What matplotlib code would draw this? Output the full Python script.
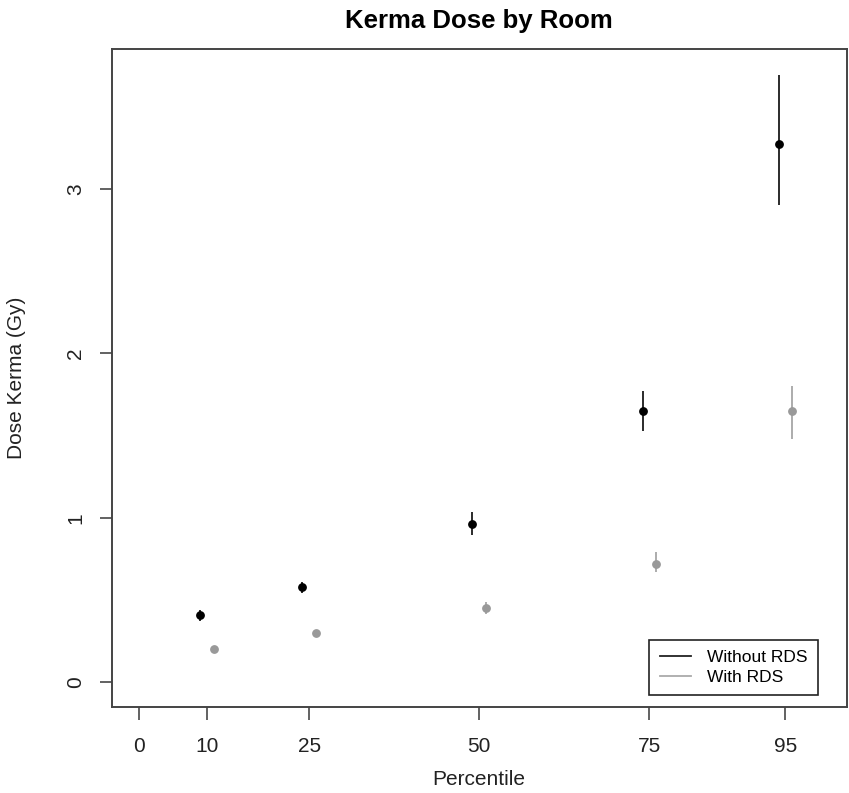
import matplotlib
matplotlib.use("Agg")
import matplotlib.pyplot as plt
from matplotlib.lines import Line2D
import numpy as np

plt.rcParams['font.family'] = ['Liberation Sans', 'DejaVu Sans']

percentiles = [10, 25, 50, 75, 95]
tick_values = [0, 10, 25, 50, 75, 95]
tick_labels = ["0", "10", "25", "50", "75", "95"]

without_rds = [0.41, 0.58, 0.96, 1.65, 3.27]
without_lo = [0.375, 0.545, 0.895, 1.525, 2.90]
without_hi = [0.44, 0.61, 1.035, 1.77, 3.69]

with_rds = [0.20, 0.30, 0.45, 0.72, 1.65]
with_lo = [0.185, 0.285, 0.415, 0.67, 1.48]
with_hi = [0.215, 0.315, 0.49, 0.79, 1.80]

offset = 1.0

fig = plt.figure(figsize=(8.49, 7.93), dpi=100)
ax = fig.add_axes([0.1316, 0.1088, 0.8657, 0.829])

x = np.array(percentiles, dtype=float)
blk = '#000000'
gry = '#999999'

ax.vlines(x - offset, without_lo, without_hi, color='#1a1a1a', lw=1.3, zorder=2)
ax.plot(x - offset, without_rds, 'o', color=blk, ms=5.3, zorder=3)
ax.vlines(x + offset, with_lo, with_hi, color='#a6a6a6', lw=1.3, zorder=2)
ax.plot(x + offset, with_rds, 'o', color=gry, ms=5.3, zorder=3)

ax.set_xlim(-4, 104)
ax.set_ylim(-0.148, 3.848)

ax.set_xticks(tick_values)
ax.set_xticklabels(tick_labels)
ax.set_yticks([0, 1, 2, 3])
ax.set_yticklabels(["0", "1", "2", "3"], rotation=90, va='center')

ax.tick_params(axis='both', direction='out', length=9, width=1.3, color='#555555',
               labelsize=15, labelcolor='#222222')
ax.tick_params(axis='x', pad=13)
ax.tick_params(axis='y', pad=10)

for s in ax.spines.values():
    s.set_linewidth(1.4)
    s.set_color('#444444')

ax.set_title("Kerma Dose by Room", fontsize=18.5, fontweight='bold', pad=15)
ax.set_xlabel("Percentile", fontsize=15, color='#222222')
ax.set_ylabel("Dose Kerma (Gy)", fontsize=15, color='#222222')
ax.xaxis.set_label_coords(0.5, -0.096)
ax.yaxis.set_label_coords(-0.117, 0.5)

handles = [Line2D([], [], color='#222222', lw=1.3),
           Line2D([], [], color='#aaaaaa', lw=1.3)]
leg = ax.legend(handles, ["Without RDS", "With RDS"], loc='lower right',
                bbox_to_anchor=(0.9605, 0.0178), borderaxespad=0,
                fontsize=12.5, handlelength=1.8, handletextpad=0.9,
                fancybox=False, framealpha=1, edgecolor='#222222',
                borderpad=0.6, labelspacing=0.25)
leg.get_frame().set_linewidth(1.2)

fig.savefig("out.png", dpi=100)
